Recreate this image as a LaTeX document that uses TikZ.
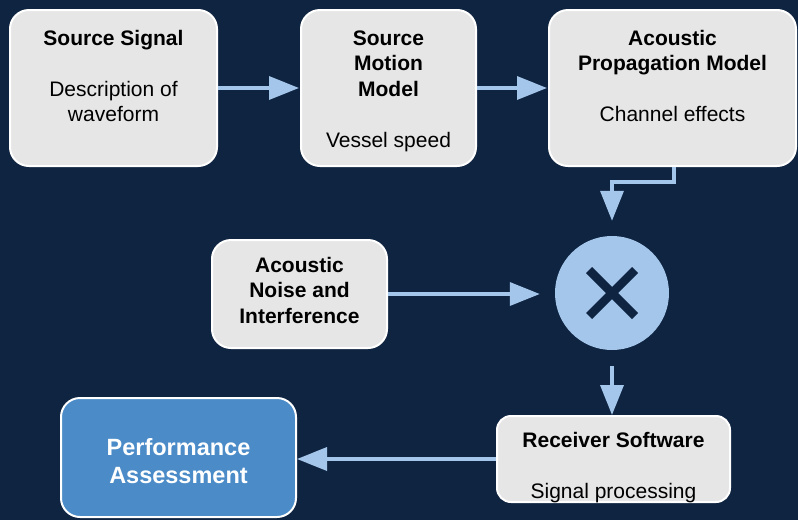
\documentclass[tikz,border=0pt]{standalone}
\usepackage{fontspec}
\setmainfont{Liberation Sans}
\usetikzlibrary{arrows.meta,calc}
\definecolor{bg}{HTML}{0F2441}
\definecolor{boxfill}{HTML}{E6E6E6}
\definecolor{arr}{HTML}{A4C6EB}
\definecolor{perfblue}{HTML}{4A8BC8}
\begin{document}
\begin{tikzpicture}[x=1pt,y=-1pt,
  box/.style={draw=white,line width=2pt,fill=boxfill,rounded corners=19pt,inner sep=0pt},
  txt/.style={anchor=north,align=center,inner sep=0pt,font=\fontsize{21}{25.5}\selectfont,text=black},
  flow/.style={draw=arr,line width=3.5pt,-{Triangle[length=30pt,width=23pt]}}
]
\fill[bg] (0,0) rectangle (798,520);
\useasboundingbox (0,0) rectangle (798,520);
% boxes
\node[box,minimum width=207pt,minimum height=156pt] (ss) at (113.5,88) {};
\node[box,minimum width=175pt,minimum height=156pt] (sm) at (388.5,88) {};
\node[box,minimum width=247pt,minimum height=156pt] (ap) at (672.5,88) {};
\node[box,minimum width=175pt,minimum height=108pt] (noise) at (299.5,294) {};
\node[circle,fill=arr,minimum size=114pt,inner sep=0pt] (mx) at (612,293) {};
\node[box,rounded corners=14pt,minimum width=233pt,minimum height=86pt] (rx) at (613.5,459) {};
\node[box,fill=perfblue,minimum width=235pt,minimum height=119pt] (perf) at (178.5,457.5) {};
% multiply sign
\draw[bg,line width=8.5pt] ($(mx.center)+(-23,-23)$) -- ($(mx.center)+(23,23)$);
\draw[bg,line width=8.5pt] ($(mx.center)+(23,-23)$) -- ($(mx.center)+(-23,23)$);
% texts
\node[txt] (ss-t) at (113.5,27.15) {\strut\textbf{Source Signal}\\[25.5pt]Description of\\waveform};
\node[txt] (sm-t) at (388.5,27.15) {\strut\textbf{Source}\\\textbf{Motion}\\\textbf{Model}\\[25.5pt]Vessel speed};
\node[txt] (ap-t) at (672.5,27.15) {\strut\textbf{Acoustic}\\\textbf{Propagation Model}\\[25.5pt]Channel effects};
\node[txt] (noise-t) at (299.5,254.15) {\strut\textbf{Acoustic}\\\textbf{Noise and}\\\textbf{Interference}};
\node[txt] (rx-t) at (613.5,429.15) {\strut\textbf{Receiver Software}\\[25.5pt]Signal processing};
\node[txt,text=white,font=\fontsize{23.5}{28.5}\selectfont\bfseries] (perf-t) at (178.5,435.05) {\strut Performance\\Assessment};
% connectors
\draw[flow,shorten >=1pt] (ss.east) -- (sm.west);
\draw[flow,shorten >=1pt] (sm.east) -- (ap.west);
\draw[flow,shorten >=15pt] ($(ap.south)+(1.5,0)$) -- ++(0,15) -| (mx.north);
\draw[flow,shorten >=15pt] (noise.east) -- (noise.east -| mx.west);
\draw[flow,shorten <=16pt] (mx.south) -- (mx.south |- rx.north);
\draw[flow] (rx.west) -- (rx.west -| perf.east);
\end{tikzpicture}
\end{document}
